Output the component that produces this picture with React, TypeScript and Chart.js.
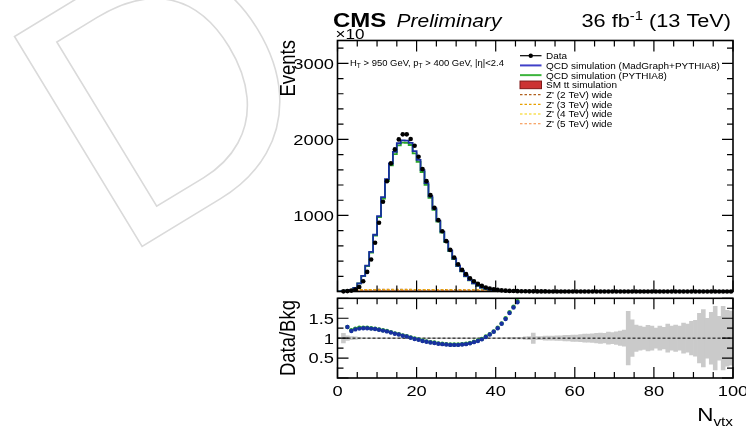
import { useEffect, useRef } from "react";
import { Chart, registerables } from "chart.js";
Chart.register(...registerables);

// ---------- binning / axes ----------
const BIN_LOW = 0;
const BIN_WIDTH = 1;
const X_MIN = 0;
const X_MAX = 100;
const MAIN_Y_MAX = 3300;
const RATIO_Y_MIN = 0;
const RATIO_Y_MAX = 2;
const RATIO_REF = 1;

const xTickValues = [0, 20, 40, 60, 80, 100];
const mainYTickValues = [1000, 2000, 3000];
const ratioYTickValues = [0.5, 1, 1.5];

// ---------- series (bins 0..99) ----------
const dataCounts = [
  0, 2, 5, 12, 26, 60, 135, 258, 420, 640,
  903, 1180, 1451, 1684, 1868, 2000, 2066, 2066, 2004, 1916,
  1771, 1609, 1451, 1267, 1100, 938, 793, 662, 547, 447,
  359, 284, 228, 175, 135, 100, 74, 53, 40, 29,
  21, 15, 11, 8, 6, 4.4, 3.3, 2.6, 2.1, 1.7,
  1.4, 1.2, 1.0, 0.9, 0.8, 0.7, 0.6, 0.55, 0.5, 0.45,
  0.4, 0.36, 0.33, 0.3, 0.27, 0.25, 0.23, 0.21, 0.2, 0.18,
  0.17, 0.16, 0.15, 0.14, 0.13, 0.12, 0.12, 0.11, 0.1, 0.1,
  0.09, 0.09, 0.08, 0.08, 0.08, 0.07, 0.07, 0.07, 0.06, 0.06,
  0.06, 0.05, 0.05, 0.05, 0.05, 0.05, 0.04, 0.04, 0.04, 0.04,
];

const qcdMadgraph = [
  0, 1, 4, 10, 21, 48, 108, 206, 339, 520,
  746, 992, 1240, 1477, 1683, 1835, 1949, 1987, 1984, 1955,
  1845, 1730, 1595, 1424, 1250, 1091, 933, 788, 659, 539,
  433, 338, 268, 201, 150, 108, 76, 51, 37, 25,
  17, 11, 7.4, 4.9, 3.4, 2.3, 1.5, 1.0, 0.7, 0.5,
  0.35, 0.25, 0.18, 0.13, 0.09, 0.07, 0.05, 0.04, 0.03, 0.03,
  0.02, 0.02, 0.02, 0.01, 0.01, 0.01, 0.01, 0.01, 0.01, 0.01,
  0.01, 0.01, 0.01, 0.01, 0.01, 0.01, 0.01, 0.01, 0.01, 0.01,
  0.01, 0.01, 0.01, 0.01, 0.01, 0.01, 0.01, 0.01, 0.01, 0.01,
  0.01, 0.01, 0.01, 0.01, 0.01, 0.01, 0.01, 0.01, 0.01, 0.01,
];

const qcdPythia = [
  0, 1, 4, 10, 21, 47, 106, 203, 334, 512,
  735, 977, 1221, 1455, 1658, 1807, 1920, 1957, 1954, 1926,
  1817, 1704, 1571, 1403, 1231, 1075, 919, 776, 649, 531,
  427, 333, 264, 198, 148, 106, 75, 50, 36, 25,
  17, 11, 7.2, 4.8, 3.3, 2.2, 1.4, 0.95, 0.65, 0.45,
  0.32, 0.23, 0.17, 0.12, 0.09, 0.07, 0.05, 0.04, 0.03, 0.03,
  0.02, 0.02, 0.02, 0.01, 0.01, 0.01, 0.01, 0.01, 0.01, 0.01,
  0.01, 0.01, 0.01, 0.01, 0.01, 0.01, 0.01, 0.01, 0.01, 0.01,
  0.01, 0.01, 0.01, 0.01, 0.01, 0.01, 0.01, 0.01, 0.01, 0.01,
  0.01, 0.01, 0.01, 0.01, 0.01, 0.01, 0.01, 0.01, 0.01, 0.01,
];

// small contributions (bins starting at SIGNAL_START_BIN)
const SIGNAL_START_BIN = 5;
const ttbarSim = [
  2, 3, 4, 5, 5, 6, 6, 6, 6, 6, 6, 6, 6, 6, 6, 6, 6, 5,
  5, 5, 5, 5, 4, 4, 4, 4, 4, 3, 3, 3, 3, 3, 2, 2, 2,
];
const zp2TeV = [
  24, 25, 25, 26, 26, 26, 27, 27, 27, 27, 27, 27, 27, 27, 27, 26, 26, 26,
  26, 25, 25, 25, 25, 24, 24, 24, 24, 23, 23, 23, 23, 22, 22, 22, 22,
];
const zp3TeV = [
  20, 21, 21, 21, 22, 22, 22, 22, 22, 22, 22, 22, 22, 22, 22, 22, 21, 21,
  21, 21, 21, 20, 20, 20, 20, 20, 19, 19, 19, 19, 19, 18, 18, 18, 18,
];
const zp4TeV = [
  17, 17, 18, 18, 18, 18, 18, 19, 19, 19, 19, 19, 19, 19, 19, 18, 18, 18,
  18, 18, 18, 17, 17, 17, 17, 17, 17, 16, 16, 16, 16, 16, 16, 15, 15,
];
const zp5TeV = [
  14, 14, 15, 15, 15, 15, 16, 16, 16, 16, 16, 16, 16, 16, 16, 16, 15, 15,
  15, 15, 15, 15, 15, 14, 14, 14, 14, 14, 14, 13, 13, 13, 13, 13, 13,
];

// ratio panel (bins starting at RATIO_START_BIN)
const RATIO_START_BIN = 2;
const ratioMadgraph = [
  1.28, 1.18, 1.22, 1.24, 1.25, 1.25, 1.24, 1.23, 1.21, 1.19,
  1.17, 1.14, 1.11, 1.09, 1.06, 1.04, 1.01, 0.98, 0.96, 0.93,
  0.91, 0.89, 0.88, 0.86, 0.85, 0.84, 0.83, 0.83, 0.83, 0.84,
  0.85, 0.87, 0.90, 0.93, 0.97, 1.03, 1.09, 1.16, 1.25, 1.36,
  1.48, 1.63, 1.77, 1.90,
];
const ratioPythia = [
  1.28, 1.20, 1.24, 1.26, 1.26, 1.26, 1.25, 1.24, 1.22, 1.20,
  1.18, 1.15, 1.12, 1.10, 1.07, 1.05, 1.02, 0.99, 0.97, 0.94,
  0.92, 0.90, 0.89, 0.87, 0.86, 0.85, 0.84, 0.84, 0.84, 0.85,
  0.86, 0.88, 0.91, 0.94, 0.98, 1.04, 1.10, 1.17, 1.26, 1.37,
  1.50, 1.65, 1.79, 1.93,
];
// half width of the grey uncertainty band, bins 0..99
const bandHalfWidth = [
  0, 0.12, 0.06, 0.04, 0.03, 0.02, 0.01, 0.01, 0.01, 0.01,
  0.01, 0.01, 0.01, 0.01, 0.01, 0.01, 0.01, 0.01, 0.01, 0.01,
  0.01, 0.01, 0.01, 0.01, 0.01, 0.01, 0.01, 0.01, 0.01, 0.01,
  0.01, 0.01, 0.01, 0.01, 0.01, 0.01, 0.01, 0.01, 0.01, 0.01,
  0.01, 0.015, 0.015, 0.02, 0.02, 0.02, 0.02, 0.03, 0.04, 0.13,
  0.04, 0.04, 0.05, 0.05, 0.05, 0.06, 0.06, 0.07, 0.07, 0.08,
  0.08, 0.09, 0.1, 0.1, 0.11, 0.12, 0.13, 0.12, 0.15, 0.14,
  0.16, 0.18, 0.2, 0.67, 0.46, 0.33, 0.3, 0.28, 0.32, 0.3,
  0.25, 0.3, 0.27, 0.35, 0.3, 0.33, 0.3, 0.38, 0.35, 0.42,
  0.45, 0.62, 0.72, 0.5, 0.65, 0.8, 0.55, 0.8, 0.7, 0.68,
];

const legendLabels = [
  "Data",
  "QCD simulation (MadGraph+PYTHIA8)",
  "QCD simulation (PYTHIA8)",
  "SM tt simulation",
  "Z' (2 TeV) wide",
  "Z' (3 TeV) wide",
  "Z' (4 TeV) wide",
  "Z' (5 TeV) wide",
];

// ---------- styles ----------
const FONT = '"Liberation Sans", Arial, Helvetica, sans-serif';
const SX = 1.22;
const C_BLUE = "#1830a0";
const C_GREEN = "#2aa52a";
const C_TT_FILL = "#cc3333";
const C_TT_LINE = "#801818";
const C_Z2 = "#b0601e";
const C_Z3 = "#e8a000";
const C_Z4 = "#f5d000";
const C_Z5 = "#f58a3c";
const MAJ = 11;
const MIN = 6;

const W = 746;
const H = 430;
const PLOT_LEFT = 337.5;
const PLOT_RIGHT = 733;
const MAIN_TOP = 40.5;
const MAIN_BOTTOM = 291.5;
const RATIO_TOP = 298.3;
const RATIO_BOTTOM = 378;

// ---------- helpers ----------
const fnt = (size: number, style = "") => `${style} ${size}px ${FONT}`.trim();

type Run = { t: string; size: number; style?: string; dy?: number };

function drawRuns(
  ctx: CanvasRenderingContext2D,
  list: Run[],
  x: number,
  y: number,
  align: "left" | "right" | "center",
  sx = SX,
  color = "#000"
) {
  ctx.save();
  ctx.fillStyle = color;
  ctx.textAlign = "left";
  ctx.textBaseline = "alphabetic";
  let total = 0;
  const ws = list.map((r) => {
    ctx.font = fnt(r.size, r.style);
    const w = ctx.measureText(r.t).width;
    total += w;
    return w;
  });
  ctx.translate(x, y);
  ctx.scale(sx, 1);
  let cx = align === "right" ? -total : align === "center" ? -total / 2 : 0;
  list.forEach((r, i) => {
    ctx.font = fnt(r.size, r.style);
    ctx.fillText(r.t, cx, r.dy ?? 0);
    cx += ws[i];
  });
  ctx.restore();
}

function drawVText(ctx: CanvasRenderingContext2D, text: string, x: number, yTop: number, size: number, sx = SX) {
  ctx.save();
  ctx.translate(x, yTop);
  ctx.rotate(-Math.PI / 2);
  ctx.scale(1, sx);
  ctx.font = fnt(size);
  ctx.textAlign = "right";
  ctx.textBaseline = "alphabetic";
  ctx.fillStyle = "#000";
  ctx.fillText(text, 0, 0);
  ctx.restore();
}

function drawFrameTicks(chart: any, xMajorStep: number, xMinorStep: number, yMajorStep: number, yMinorStep: number) {
  const ctx: CanvasRenderingContext2D = chart.ctx;
  const a = chart.chartArea;
  const xs = chart.scales.x;
  const ys = chart.scales.y;
  const isMajor = (v: number, step: number) => Math.abs(v / step - Math.round(v / step)) < 1e-6;
  ctx.save();
  ctx.strokeStyle = "#000";
  ctx.lineWidth = 1.2;
  ctx.beginPath();
  const nx = Math.round((xs.max - xs.min) / xMinorStep);
  for (let i = 0; i <= nx; i++) {
    const v = xs.min + i * xMinorStep;
    const px = xs.getPixelForValue(v);
    const L = isMajor(v, xMajorStep) ? MAJ : MIN;
    ctx.moveTo(px, a.bottom);
    ctx.lineTo(px, a.bottom - L);
    ctx.moveTo(px, a.top);
    ctx.lineTo(px, a.top + L);
  }
  const ny = Math.floor((ys.max - ys.min) / yMinorStep + 1e-6);
  for (let i = 0; i <= ny; i++) {
    const v = ys.min + i * yMinorStep;
    const py = ys.getPixelForValue(v);
    const L = isMajor(v, yMajorStep) ? MAJ : MIN;
    ctx.moveTo(a.left, py);
    ctx.lineTo(a.left + L, py);
    ctx.moveTo(a.right, py);
    ctx.lineTo(a.right - L, py);
  }
  ctx.stroke();
  ctx.lineWidth = 1.6;
  ctx.strokeRect(a.left, a.top, a.right - a.left, a.bottom - a.top);
  ctx.restore();
}

function histPoints(values: number[], startBin = 0, closeToZero = false) {
  const pts: { x: number; y: number }[] = [];
  const x0 = BIN_LOW + startBin * BIN_WIDTH;
  const x1 = BIN_LOW + (startBin + values.length) * BIN_WIDTH;
  if (closeToZero) pts.push({ x: x0, y: 0 });
  values.forEach((v, i) => pts.push({ x: BIN_LOW + (startBin + i) * BIN_WIDTH, y: v }));
  pts.push({ x: x1, y: values[values.length - 1] });
  if (closeToZero) pts.push({ x: x1, y: 0 });
  return pts;
}

function centerPoints(values: (number | null)[], startBin = 0) {
  const pts: { x: number; y: number }[] = [];
  values.forEach((v, i) => {
    if (v !== null && v > 0) pts.push({ x: BIN_LOW + (startBin + i + 0.5) * BIN_WIDTH, y: v });
  });
  return pts;
}

// ---------- plugins ----------
const mainDecor = {
  id: "mainDecor",
  afterDraw(chart: any) {
    const ctx: CanvasRenderingContext2D = chart.ctx;
    const ys = chart.scales.y;
    drawFrameTicks(chart, 20, 5, 1000, 200);

    // y tick labels
    mainYTickValues.forEach((v) => {
      const py = ys.getPixelForValue(v);
      drawRuns(ctx, [{ t: String(v), size: 15 }], 334, py + 5.4, "right");
    });

    // title
    drawRuns(ctx, [{ t: "\u00d710", size: 14 }], 335.5, 38.5, "left");
    drawRuns(ctx, [{ t: "CMS", size: 20, style: "bold" }], 333, 26.7, "left", 1.2);
    drawRuns(ctx, [{ t: "Preliminary", size: 17.5, style: "italic" }], 396.5, 26.7, "left", 1.2);
    drawRuns(
      ctx,
      [
        { t: "36 fb", size: 17.5 },
        { t: "-1", size: 12, dy: -7 },
        { t: " (13 TeV)", size: 17.5 },
      ],
      731,
      26.7,
      "right",
      1.24
    );

    // axis title
    drawVText(ctx, "Events", 295, 40, 18.5);

    // selection text
    drawRuns(
      ctx,
      [
        { t: "H", size: 9 },
        { t: "T", size: 6.3, dy: 2 },
        { t: " > 950 GeV, p", size: 9 },
        { t: "T", size: 6.3, dy: 2 },
        { t: " > 400 GeV, |\u03b7|<2.4", size: 9 },
      ],
      350,
      66.3,
      "left",
      1.05
    );

    // legend
    const lx0 = 520;
    const lx1 = 541.5;
    const tx = 546;
    const y0 = 55.7;
    const dy = 9.72;
    ctx.save();
    legendLabels.forEach((label, i) => {
      const yc = y0 + i * dy;
      ctx.setLineDash([]);
      if (i === 0) {
        ctx.strokeStyle = "#000";
        ctx.lineWidth = 1.2;
        ctx.beginPath();
        ctx.moveTo(lx0, yc);
        ctx.lineTo(lx1, yc);
        ctx.stroke();
        ctx.fillStyle = "#000";
        ctx.beginPath();
        ctx.arc((lx0 + lx1) / 2, yc, 2.2, 0, Math.PI * 2);
        ctx.fill();
      } else if (i === 1 || i === 2) {
        ctx.strokeStyle = i === 1 ? "#4040c8" : "#3cb43c";
        ctx.lineWidth = 2;
        ctx.beginPath();
        ctx.moveTo(lx0, yc);
        ctx.lineTo(lx1, yc);
        ctx.stroke();
      } else if (i === 3) {
        ctx.fillStyle = C_TT_FILL;
        ctx.fillRect(lx0, yc - 3.8, lx1 - lx0, 7.6);
        ctx.strokeStyle = C_TT_LINE;
        ctx.lineWidth = 1;
        ctx.strokeRect(lx0, yc - 3.8, lx1 - lx0, 7.6);
      } else {
        ctx.strokeStyle = [C_Z2, C_Z3, C_Z4, C_Z5][i - 4];
        ctx.lineWidth = 1.2;
        ctx.setLineDash([2.5, 2]);
        ctx.beginPath();
        ctx.moveTo(lx0, yc);
        ctx.lineTo(lx1, yc);
        ctx.stroke();
      }
      drawRuns(ctx, [{ t: label, size: 9.5 }], tx, yc + 3.4, "left", 1.05);
    });
    ctx.restore();
  },
};

const ratioDecor = {
  id: "ratioDecor",
  afterDraw(chart: any) {
    const ctx: CanvasRenderingContext2D = chart.ctx;
    const xs = chart.scales.x;
    const ys = chart.scales.y;
    drawFrameTicks(chart, 20, 5, 0.5, 0.25);
    ratioYTickValues.forEach((v) => {
      const py = ys.getPixelForValue(v);
      drawRuns(ctx, [{ t: String(v), size: 15 }], 334, py + 5.4, "right");
    });
    xTickValues.forEach((v) => {
      const px = xs.getPixelForValue(v);
      drawRuns(ctx, [{ t: String(v), size: 15 }], px, 396, "center");
    });
    drawVText(ctx, "Data/Bkg", 294.5, 300, 18.5);
    drawRuns(
      ctx,
      [
        { t: "N", size: 19 },
        { t: "vtx", size: 13, dy: 5.5 },
      ],
      733,
      420.5,
      "right",
      1.18
    );
  },
};

// ---------- configs ----------
function baseOptions(padTop: number, padBottom: number, yMin: number, yMax: number) {
  return {
    animation: false,
    responsive: false,
    devicePixelRatio: 1,
    events: [],
    layout: { padding: { left: PLOT_LEFT, right: W - PLOT_RIGHT, top: padTop, bottom: padBottom } },
    plugins: { legend: { display: false }, tooltip: { enabled: false } },
    scales: {
      x: { type: "linear", min: X_MIN, max: X_MAX, display: false, offset: false },
      y: { type: "linear", min: yMin, max: yMax, display: false },
    },
  } as any;
}

function mainConfig(): any {
  const zpSets = [zp2TeV, zp3TeV, zp4TeV, zp5TeV].map((vals, k) => ({
    type: "line",
    data: histPoints(vals, SIGNAL_START_BIN, true),
    stepped: "after",
    borderColor: [C_Z2, C_Z3, C_Z4, C_Z5][k],
    borderWidth: 1.2,
    borderDash: [2.5, 2],
    pointRadius: 0,
    fill: false,
    order: 9 - k,
  }));
  return {
    type: "line",
    data: {
      datasets: [
        {
          type: "line",
          data: histPoints(ttbarSim, SIGNAL_START_BIN, true),
          stepped: "after",
          borderColor: C_TT_LINE,
          backgroundColor: C_TT_FILL,
          borderWidth: 1,
          pointRadius: 0,
          fill: "origin",
          order: 10,
        },
        ...zpSets,
        {
          type: "line",
          data: histPoints(qcdPythia),
          stepped: "after",
          borderColor: C_GREEN,
          borderWidth: 1.8,
          pointRadius: 0,
          fill: false,
          order: 4,
        },
        {
          type: "line",
          data: histPoints(qcdMadgraph),
          stepped: "after",
          borderColor: C_BLUE,
          borderWidth: 1.8,
          pointRadius: 0,
          fill: false,
          order: 3,
        },
        {
          type: "line",
          data: centerPoints(dataCounts),
          showLine: false,
          pointRadius: 2.3,
          pointBackgroundColor: "#000",
          pointBorderWidth: 0,
          clip: 4,
          order: 1,
        },
      ],
    },
    options: baseOptions(MAIN_TOP, H - MAIN_BOTTOM, 0, MAIN_Y_MAX),
    plugins: [mainDecor],
  };
}

function ratioConfig(): any {
  const band: { x: number; y: [number, number] }[] = [];
  bandHalfWidth.forEach((e, i) => {
    if (e > 0) band.push({ x: BIN_LOW + (i + 0.5) * BIN_WIDTH, y: [RATIO_REF - e, RATIO_REF + e] });
  });
  return {
    type: "line",
    data: {
      datasets: [
        {
          type: "bar",
          data: band,
          backgroundColor: "#cacaca",
          borderWidth: 0,
          barPercentage: 1,
          categoryPercentage: 1,
          order: 5,
        },
        {
          type: "line",
          data: [
            { x: X_MIN, y: RATIO_REF },
            { x: X_MAX, y: RATIO_REF },
          ],
          borderColor: "#000",
          borderWidth: 1,
          borderDash: [3, 2],
          pointRadius: 0,
          fill: false,
          order: 4,
        },
        {
          type: "line",
          data: centerPoints(ratioPythia, RATIO_START_BIN),
          showLine: false,
          pointRadius: 2.2,
          pointBackgroundColor: C_GREEN,
          pointBorderWidth: 0,
          order: 3,
        },
        {
          type: "line",
          data: centerPoints(ratioMadgraph, RATIO_START_BIN),
          showLine: false,
          pointRadius: 2.2,
          pointBackgroundColor: C_BLUE,
          pointBorderWidth: 0,
          order: 2,
        },
      ],
    },
    options: baseOptions(RATIO_TOP, H - RATIO_BOTTOM, RATIO_Y_MIN, RATIO_Y_MAX),
    plugins: [ratioDecor],
  };
}

export default function App() {
  const mainRef = useRef<HTMLCanvasElement>(null);
  const ratioRef = useRef<HTMLCanvasElement>(null);

  useEffect(() => {
    const c1 = new Chart(mainRef.current as HTMLCanvasElement, mainConfig());
    const c2 = new Chart(ratioRef.current as HTMLCanvasElement, ratioConfig());
    return () => {
      c1.destroy();
      c2.destroy();
    };
  }, []);

  const canvasStyle: any = { position: "absolute", left: 0, top: 0, width: W, height: H };
  return (
    <div
      style={{
        position: "fixed",
        left: 0,
        top: 0,
        width: W,
        height: H,
        overflow: "hidden",
        background: "#fff",
      }}
    >
      <span
        style={{
          position: "absolute",
          left: 113,
          top: -55,
          fontFamily: FONT,
          fontSize: 357,
          lineHeight: "357px",
          color: "transparent",
          WebkitTextStroke: "1.6px #dadada",
          transform: "rotate(-31.3deg)",
          transformOrigin: "28px 302px",
          whiteSpace: "nowrap",
          userSelect: "none",
        }}
      >
        D
      </span>
      <canvas ref={mainRef} width={W} height={H} style={canvasStyle} />
      <canvas ref={ratioRef} width={W} height={H} style={canvasStyle} />
    </div>
  );
}
